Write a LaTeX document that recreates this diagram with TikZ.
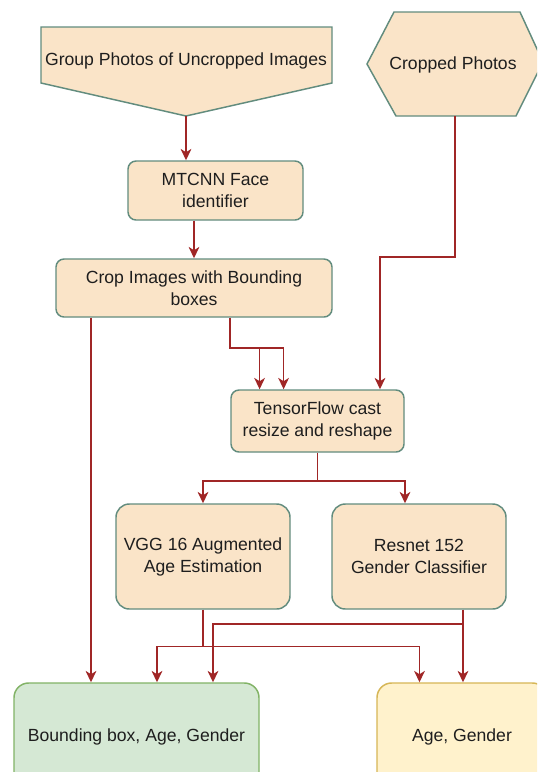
\documentclass[tikz,border=0pt]{standalone}
\usepackage{fontspec}
\setmainfont{Liberation Sans}
\usetikzlibrary{arrows.meta,calc}
\definecolor{peach}{RGB}{250,228,200}
\definecolor{peachline}{RGB}{98,140,126}
\definecolor{arrowred}{RGB}{160,38,38}
\definecolor{gfill}{RGB}{213,232,212}
\definecolor{gline}{RGB}{130,179,102}
\definecolor{yfill}{RGB}{255,242,204}
\definecolor{yline}{RGB}{214,182,86}
\definecolor{txt}{RGB}{30,30,30}
\begin{document}
\begin{tikzpicture}[x=0.75pt,y=-0.75pt,
  lbl/.style={font=\fontsize{13.2}{16.5}\selectfont, text=txt, align=center},
  pbox/.style={lbl, draw=peachline, fill=peach, line width=1.1pt, rounded corners=6pt, inner sep=0pt},
  pboxr/.style={pbox, rounded corners=10pt},
  gbox/.style={lbl, draw=gline, fill=gfill, line width=1.1pt, rounded corners=11pt, inner sep=0pt},
  ybox/.style={lbl, draw=yline, fill=yfill, line width=1.1pt, rounded corners=11pt, inner sep=0pt},
  pshape/.style={draw=peachline, fill=peach, line width=1.1pt, line join=miter},
  ln/.style={draw=arrowred, line width=1.25pt},
  arr/.style={ln, -{Stealth[length=8.5pt,width=8pt,inset=2.5pt]}}
]
\useasboundingbox (0,0) rectangle (537,772);
\clip (0,0) rectangle (537,772);
\fill[white] (0,0) rectangle (537,772);

% source shapes
\draw[pshape] (41,27) -- (332,27) -- (332,83) -- (186,116) -- (41,83) -- cycle;
\node[lbl] (G) at (186,61) {Group Photos of Uncropped Images};
\coordinate (Gtip) at (186,116);

\draw[pshape] (367,64) -- (394,12) -- (520,12) -- (543,62) -- (516,116) -- (396,116) -- cycle;
\node[lbl] (H) at (453,65) {Cropped Photos};
\coordinate (Hb) at (455,116);

% process boxes
\node[pbox, minimum width=131.25pt, minimum height=44.25pt] (M) at (215.5,190.5) {MTCNN Face\\identifier};
\node[pbox, minimum width=207pt, minimum height=43.5pt] (C) at (194,288) {Crop Images with Bounding\\boxes};
\node[pbox, minimum width=129.75pt, minimum height=46.5pt] (T) at (317.5,421) {TensorFlow cast\\resize and reshape};
\node[pboxr, minimum width=130.5pt, minimum height=78.75pt] (V) at (203,556.5) {VGG 16 Augmented\\Age Estimation};
\node[pboxr, minimum width=130.5pt, minimum height=78.75pt] (R) at (419,556.5) {Resnet 152\\Gender Classifier};
\node[gbox, minimum width=183.75pt, minimum height=80.25pt] (B) at (136.5,736.5) {Bounding box, Age, Gender};
\node[ybox, minimum width=127.5pt, minimum height=80.25pt] (A) at (462,736.5) {Age, Gender};

% helper coordinates
\coordinate (h1) at (380,257);
\coordinate (c1) at (230,348);
\coordinate (ta1) at (259.6,348);
\coordinate (ta2) at (283.6,348);
\coordinate (tl) at (203,481);
\coordinate (tr) at (405,481);
\coordinate (cb) at (91,317);
\coordinate (vl) at (157,646.6);
\coordinate (vr) at (419.5,646.6);
\coordinate (rr) at (463,624);
\coordinate (rl) at (213,624);

% connectors
\draw[arr] (Gtip) -- (Gtip |- M.north);
\draw[arr] (M.south -| C.north) -- (C.north);
\draw[arr] (Hb) |- (h1) -- (h1 |- T.north);
\draw[arr] (c1 |- C.south) |- (ta2) -- (ta2 |- T.north);
\draw[arr] (ta1) -- (ta1 |- T.north);
\draw[arr] (T.south) |- (tr) -- (tr |- R.north);
\draw[arr] (T.south |- tr) -| (V.north);
\draw[arr] (cb |- C.south) -- (cb |- B.north);
\draw[arr] (V.south) |- (vl) -- (vl |- B.north);
\draw[arr] (V.south |- vr) -- (vr) -- (vr |- A.north);
\draw[arr] (rr |- R.south) -- (rr) -- (rr |- A.north);
\draw[arr] (rr) -- (rl) -- (rl |- B.north);
\end{tikzpicture}
\end{document}
